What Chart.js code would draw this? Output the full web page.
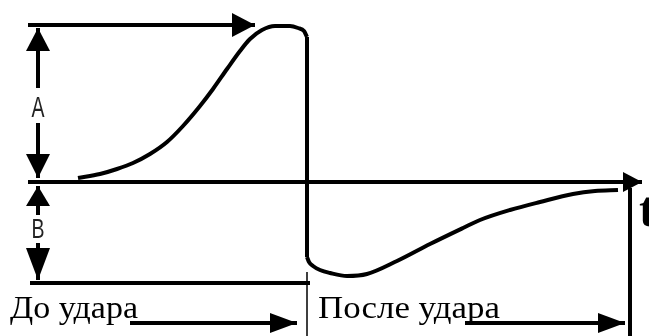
<!DOCTYPE html>
<html>
<head>
<meta charset="utf-8">
<script src="https://cdn.jsdelivr.net/npm/chart.js@4"></script>
<style>
  html, body { margin: 0; padding: 0; background: #fff; }
  canvas { display: block; }
</style>
</head>
<body>
<canvas id="myChart" width="649" height="336"></canvas>
<script>
// signal before the impact (time, amplitude)
const tBefore = [78, 100, 117, 133, 150, 167, 183, 200, 213, 227, 240, 250, 262, 275, 290, 298, 304, 307];
const ampBefore = [4, 8, 13, 19, 28, 40, 56, 76, 93, 113, 131, 143, 152, 156, 156, 154, 151, 145];

// signal after the impact
const tAfter = [307, 309, 313, 320, 330, 347, 367, 397, 430, 463, 480, 510, 540, 573, 595, 618];
const ampAfter = [-75, -80, -84, -88, -91, -94, -92, -79, -62, -46, -38, -28, -20, -12, -9, -8];

// levels and moments of the sketch
const peakLevel = 157;     // A
const troughLevel = -101;  // B
const startT = 28;
const impactT = 307;
const endT = 630;
const axisEndT = 642;
const bottomLevel = -154;

const labelA = "A";
const labelB = "B";
const labelT = "t";
const labelBefore = "До удара";
const labelAfter = "После удара";

function pts(xs, ys) {
  return xs.map((x, i) => ({ x: x, y: ys[i] }));
}

function seg(x0, y0, x1, y1, width, arrow) {
  return {
    data: [{ x: x0, y: y0 }, { x: x1, y: y1 }],
    borderColor: "#000",
    borderWidth: width,
    tension: 0,
    arrow: arrow || null,
  };
}

const curveStyle = {
  borderColor: "#000",
  borderWidth: 4,
  tension: 0.4,
  cubicInterpolationMode: "monotone",
};

const datasets = [
  Object.assign({ data: pts(tBefore, ampBefore) }, curveStyle),
  seg(impactT, ampBefore[ampBefore.length - 1], impactT, ampAfter[0], 4),
  Object.assign({ data: pts(tAfter, ampAfter) }, curveStyle),
  // time axis
  seg(startT, 0, axisEndT, 0, 4, { len: 19, half: 10 }),
  // peak level line
  seg(startT, peakLevel, 255, peakLevel, 4, { len: 23, half: 12 }),
  // trough level line
  seg(startT + 2, troughLevel, impactT + 3, troughLevel, 4),
  // A arrows
  seg(38, 94, 38, peakLevel - 3, 4, { len: 23, half: 12 }),
  seg(38, 59, 38, 4, 4, { len: 24, half: 12 }),
  // B arrows
  seg(38, -33, 38, -4, 4, { len: 20, half: 12 }),
  seg(38, -61, 38, troughLevel + 3, 4, { len: 32, half: 12 }),
  // divider and end line
  seg(impactT, -90, impactT, bottomLevel, 1.5),
  seg(endT, -6, endT, bottomLevel, 4),
  // phase arrows
  seg(130, -141, impactT - 10, -141, 4, { len: 27, half: 10 }),
  seg(465, -141, endT - 5, -141, 4, { len: 27, half: 10 }),
];

const texts = [
  { text: labelA, x: 38, y: 73, font: '30px "Liberation Sans"', width: 13, align: "center", base: "middle", color: "#222" },
  { text: labelB, x: 38, y: -48, font: '28px "Liberation Sans"', width: 13, align: "center", base: "middle", color: "#222" },
  { text: labelT, x: 639, y: -44, font: 'bold 50px "Liberation Serif"', width: 0, align: "left", base: "alphabetic", color: "#000" },
  { text: labelBefore, x: 10, y: -136, font: '31px "Liberation Serif"', width: 128, align: "left", base: "alphabetic", color: "#000" },
  { text: labelAfter, x: 318, y: -136, font: '31px "Liberation Serif"', width: 182, align: "left", base: "alphabetic", color: "#000" },
];

const arrowHeads = {
  id: "arrowHeads",
  afterDatasetsDraw(chart) {
    const ctx = chart.ctx;
    chart.data.datasets.forEach((ds, i) => {
      if (!ds.arrow) return;
      const pts = chart.getDatasetMeta(i).data;
      const a = pts[pts.length - 2], b = pts[pts.length - 1];
      const ang = Math.atan2(b.y - a.y, b.x - a.x);
      ctx.save();
      ctx.translate(b.x, b.y);
      ctx.rotate(ang);
      ctx.beginPath();
      ctx.moveTo(0, 0);
      ctx.lineTo(-ds.arrow.len, -ds.arrow.half);
      ctx.lineTo(-ds.arrow.len, ds.arrow.half);
      ctx.closePath();
      ctx.fillStyle = "#000";
      ctx.fill();
      ctx.restore();
    });
  },
};

const sketchText = {
  id: "sketchText",
  afterDraw(chart) {
    const ctx = chart.ctx;
    const sx = chart.scales.x, sy = chart.scales.y;
    texts.forEach((t) => {
      ctx.save();
      ctx.font = t.font;
      ctx.fillStyle = t.color;
      ctx.textAlign = t.align;
      ctx.textBaseline = t.base;
      const w = ctx.measureText(t.text).width;
      const k = t.width ? t.width / w : 1;
      ctx.translate(sx.getPixelForValue(t.x), sy.getPixelForValue(t.y));
      ctx.scale(k, 1);
      ctx.fillText(t.text, 0, 0);
      ctx.restore();
    });
  },
};

initChart();

function initChart() {
  const ctx = document.getElementById("myChart").getContext("2d");
  window.chart = new Chart(ctx, {
    type: "scatter",
    data: {
      datasets: datasets.map((d) => Object.assign({ showLine: true, pointRadius: 0, clip: false }, d)),
    },
    options: {
      responsive: false,
      animation: false,
      layout: { padding: 0 },
      plugins: { legend: { display: false }, tooltip: { enabled: false } },
      scales: {
        x: { type: "linear", min: 0, max: 649, display: false },
        y: { type: "linear", min: bottomLevel, max: 182, display: false },
      },
    },
    plugins: [arrowHeads, sketchText],
  });
}
</script>
</body>
</html>
